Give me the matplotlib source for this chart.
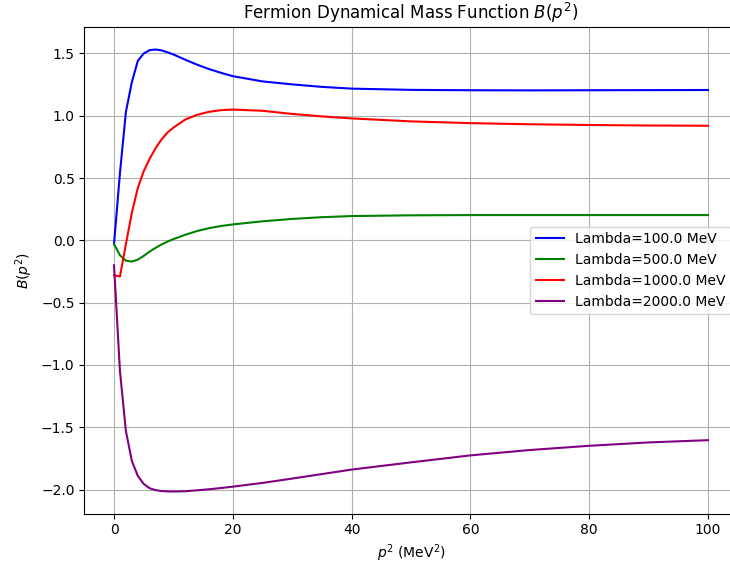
import matplotlib
matplotlib.use("Agg")
import matplotlib.pyplot as plt

p2 = [0, 1, 2, 3, 4, 5, 6, 7, 8, 9, 10, 12, 14, 16, 18, 20, 25, 30, 35, 40, 50, 60, 70, 80, 90, 100]

B_100 = [-0.03, 0.54, 1.03, 1.27, 1.44, 1.50, 1.527, 1.532, 1.525, 1.51, 1.492, 1.45, 1.41, 1.375,
         1.345, 1.318, 1.276, 1.252, 1.232, 1.218, 1.208, 1.205, 1.204, 1.205, 1.206, 1.207]
B_500 = [-0.03, -0.12, -0.163, -0.17, -0.155, -0.125, -0.09, -0.06, -0.033, -0.01, 0.01, 0.045, 0.075,
         0.098, 0.115, 0.128, 0.153, 0.172, 0.186, 0.195, 0.201, 0.203, 0.203, 0.203, 0.203, 0.203]
B_1000 = [-0.28, -0.29, -0.03, 0.22, 0.42, 0.555, 0.655, 0.74, 0.81, 0.865, 0.905, 0.97, 1.008, 1.032,
          1.045, 1.05, 1.04, 1.015, 0.995, 0.979, 0.955, 0.941, 0.932, 0.926, 0.922, 0.920]
B_2000 = [-0.2, -1.05, -1.53, -1.77, -1.89, -1.955, -1.99, -2.005, -2.012, -2.015, -2.016, -2.014,
          -2.006, -1.998, -1.988, -1.977, -1.947, -1.912, -1.876, -1.840, -1.782, -1.726, -1.683,
          -1.649, -1.622, -1.604]

lambdas = [100.0, 500.0, 1000.0, 2000.0]
series = [B_100, B_500, B_1000, B_2000]
colors = ["blue", "green", "red", "purple"]

fig = plt.figure(figsize=(7.3, 5.71), dpi=100)
ax = fig.add_axes([0.1155, 0.1005, 0.895, 0.8515])
for lam, ys, c in zip(lambdas, series, colors):
    ax.plot(p2, ys, color=c, label=f"Lambda={lam} MeV")

ax.set_title(r"Fermion Dynamical Mass Function $B(p^2)$", fontsize=12)
ax.set_xlabel(r"$p^2$ (MeV$^2$)")
ax.set_ylabel(r"$B(p^2)$")
ax.grid(True)
ax.legend(loc="center right")
fig.savefig("out.png", dpi=100)
